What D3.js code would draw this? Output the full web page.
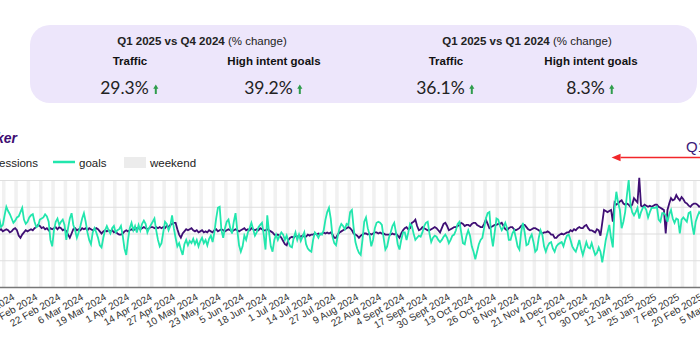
<!DOCTYPE html>
<html>
<head>
<meta charset="utf-8">
<script src="https://cdn.jsdelivr.net/npm/d3@7"></script>
<style>
  body { margin: 0; background: #fff; }
  svg { display: block; font-family: "Liberation Sans", Arial, sans-serif; }
</style>
</head>
<body>
<div id="chart"></div>
<script>
// Data
const startDay = '2024-01-16'

const goals = [
  61,67,64,56,58,67,75,71,68,64, 60,62,65,66,70,74,63,59,61,65,
  67,68,61,56,57,63,64,65,68,66, 61,44,38,53,61,64,58,61,63,58,
  44,55,64,69,58,53,46,51,57,64, 69,61,51,44,40,51,55,51,46,39,
  37,46,53,57,53,50,55,57,51,53, 54,57,48,36,30,44,55,60,53,57,
  51,58,53,59,62,59,51,55,58,61, 64,53,44,38,41,51,61,59,53,57,
  67,55,46,38,41,35,30,40,44,39, 43,41,45,40,44,38,43,46,41,44,
  39,45,48,42,51,64,74,75,53,46, 55,61,63,55,50,61,69,53,39,33,
  38,48,44,51,55,60,54,48,51,56, 58,60,49,35,67,51,38,33,44,49,
  44,48,51,49,44,48,42,38,37,46, 51,44,49,43,47,51,40,36,34,33,
  44,51,49,46,50,49,53,63,70,74, 64,47,41,39,48,55,59,57,54,59,
  58,70,72,55,42,36,32,30,44,61, 65,55,49,38,44,55,60,61,60,58,
  46,35,38,46,51,57,60,51,40,35, 44,51,51,44,51,59,57,50,44,46,
  48,47,51,57,60,61,50,42,46,48, 47,44,42,44,47,49,46,41,44,48,
  49,53,59,61,51,41,40,48,53,48, 38,33,26,33,40,44,46,55,64,69,
  70,49,38,51,64,63,57,53,56,60, 55,44,44,50,53,46,38,35,51,60,
  51,39,40,46,49,42,33,35,46,53, 49,38,33,38,41,42,36,33,38,40,
  41,42,38,44,48,49,44,38,35,33, 38,44,36,30,36,42,37,36,41,35,
  30,32,37,33,23,33,44,51,58,46, 37,74,89,79,72,55,61,70,86,100,
  77,70,67,70,74,64,70,74,75,72, 65,70,74,74,74,75,63,61,69,69,
  67,61,68,72,64,60,64,63,50,63, 65,63,61,69,70,58,49,61,66,70,
  68,64
]

const sessions = [
  53,52,53,54,52,53,54,53,51,52, 54,55,53,48,46,49,51,53,52,53,
  54,53,55,56,58,57,55,56,54,55, 53,55,54,55,56,54,56,55,53,54,
  52,49,46,50,54,55,53,54,53,55, 54,55,53,55,54,53,54,55,54,52,
  50,52,53,52,53,52,53,51,52,50, 49,49,50,52,53,52,53,54,53,54,
  55,55,54,55,56,55,54,55,56,56, 55,56,55,56,55,56,55,57,56,58,
  59,60,60,54,49,46,50,52,54,53, 54,55,53,52,53,51,52,53,51,52,
  51,53,52,51,53,54,52,53,54,53, 52,53,54,53,52,53,54,53,52,53,
  54,55,53,54,53,55,54,53,54,53, 55,54,53,53,54,53,52,51,49,48,
  49,48,46,43,40,39,44,46,47,46, 48,47,48,47,48,47,47,49,48,49,
  49,50,49,50,49,50,51,50,51,50, 51,49,46,46,49,51,52,53,54,55,
  56,55,53,50,49,48,46,48,49,50, 50,49,50,49,50,51,51,50,51,50,
  50,49,49,49,49,50,49,50,48,46, 50,53,55,56,54,55,60,61,63,57,
  53,54,56,55,54,53,53,54,55,56, 55,53,51,55,59,60,57,53,54,55,
  56,56,57,58,60,59,57,58,58,57, 59,60,60,58,57,56,56,59,63,59,
  55,56,57,58,58,59,59,60,57,54, 53,55,56,56,54,53,54,55,57,58,
  58,56,54,53,54,55,55,54,53,51, 50,51,51,52,51,49,49,46,46,48,
  49,50,49,50,51,51,53,52,54,53, 55,56,55,55,57,58,55,53,53,52,
  51,54,53,48,60,72,71,70,71,72, 61,79,77,78,80,81,78,77,78,77,
  75,77,83,81,79,102,76,75,77,76, 75,76,75,76,77,77,75,74,73,72,
  50,72,78,83,81,82,86,83,81,84, 82,79,78,76,75,77,78,78,77,75,
  76,77
]

const tickDays = [
  '2024-01-27','2024-02-09','2024-02-22','2024-03-06','2024-03-19','2024-04-01',
  '2024-04-14','2024-04-27','2024-05-10','2024-05-23','2024-06-05','2024-06-18',
  '2024-07-01','2024-07-14','2024-07-27','2024-08-09','2024-08-22','2024-09-04',
  '2024-09-17','2024-09-30','2024-10-13','2024-10-26','2024-11-08','2024-11-21',
  '2024-12-04','2024-12-17','2024-12-30','2025-01-12','2025-01-25','2025-02-07',
  '2025-02-20','2025-03-05'
]
const tickLabels = [
  '27 Jan 2024','9 Feb 2024','22 Feb 2024','6 Mar 2024','19 Mar 2024','1 Apr 2024',
  '14 Apr 2024','27 Apr 2024','10 May 2024','23 May 2024','5 Jun 2024','18 Jun 2024',
  '1 Jul 2024','14 Jul 2024','27 Jul 2024','9 Aug 2024','22 Aug 2024','4 Sept 2024',
  '17 Sept 2024','30 Sept 2024','13 Oct 2024','26 Oct 2024','8 Nov 2024','21 Nov 2024',
  '4 Dec 2024','17 Dec 2024','30 Dec 2024','12 Jan 2025','25 Jan 2025','7 Feb 2025',
  '20 Feb 2025','5 Mar 2025'
]

const periods = ['Q1 2025 vs Q4 2024', 'Q1 2025 vs Q1 2024']
const metrics = ['Traffic', 'High intent goals']
const changes = [29.3, 39.2, 36.1, 8.3]
const chartTitle = 'Traffic Tracker'
const annotation = { label: 'Q1 2025', from: '2025-01-01' }

// Dimensions
const dimensions = {
  width: 700,
  height: 352,
  plotTop: 180,
  plotBottom: 287
}

const colors = {
  sessions: '#3f0f74',
  goals: '#22e6ad',
  weekend: '#f1f1f1',
  grid: '#dedede',
  panel: '#ede6fb',
  arrowUp: '#2f9d4c',
  red: '#f2262a'
}

const parseDay = d3.timeParse('%Y-%m-%d')
const dates = goals.map((d, i) => d3.timeDay.offset(parseDay(startDay), i))

const svg = d3.select('#chart')
  .append('svg')
  .attr('width', dimensions.width)
  .attr('height', dimensions.height)

// Header panel
svg.append('rect')
  .attr('x', 30)
  .attr('y', 25)
  .attr('width', 667)
  .attr('height', 78)
  .attr('rx', 20)
  .attr('fill', colors.panel)

const periodCenters = [202, 527]
const metricCenters = [130, 274, 446, 591]

periods.forEach((p, i) => {
  const t = svg.append('text')
    .attr('x', periodCenters[i])
    .attr('y', 45)
    .attr('text-anchor', 'middle')
    .attr('font-size', 11.5)
    .attr('fill', '#222')
  t.append('tspan').attr('font-weight', 'bold').text(p)
  t.append('tspan').text(' (% change)')
})

metricCenters.forEach((cx, i) => {
  svg.append('text')
    .attr('x', cx)
    .attr('y', 65)
    .attr('text-anchor', 'middle')
    .attr('font-size', 11.5)
    .attr('font-weight', 'bold')
    .attr('fill', '#111')
    .text(metrics[i % 2])

  const num = svg.append('text')
    .attr('y', 94)
    .attr('font-family', 'Lato, sans-serif')
    .attr('font-size', 17.5)
    .attr('fill', '#222')
    .text(changes[i] + '%')
  const w = num.node().getComputedTextLength()
  const start = cx - (w + 11) / 2
  num.attr('x', start)

  svg.append('path')
    .attr('transform', `translate(${start + w + 7}, 94)`)
    .attr('d', 'M0,-9.5L2.6,-5.2L1,-5.2L1,0L-1,0L-1,-5.2L-2.6,-5.2Z')
    .attr('fill', colors.arrowUp)
})

// Title and legend
svg.append('text')
  .attr('x', 17)
  .attr('y', 143)
  .attr('text-anchor', 'end')
  .attr('font-size', 14)
  .attr('font-weight', 'bold')
  .attr('font-style', 'italic')
  .attr('fill', '#3d0c72')
  .text(chartTitle)

const legend = svg.append('g').attr('font-size', 11.5).attr('fill', '#222')
legend.append('line')
  .attr('x1', -45).attr('x2', -22).attr('y1', 162).attr('y2', 162)
  .attr('stroke', colors.sessions).attr('stroke-width', 2.5)
legend.append('text').attr('x', 38).attr('y', 167).attr('text-anchor', 'end').text('sessions')
legend.append('line')
  .attr('x1', 53).attr('x2', 75).attr('y1', 162).attr('y2', 162)
  .attr('stroke', colors.goals).attr('stroke-width', 2.5)
legend.append('text').attr('x', 79).attr('y', 167).text('goals')
legend.append('rect')
  .attr('x', 124).attr('y', 157).attr('width', 22).attr('height', 11)
  .attr('fill', '#ececec')
legend.append('text').attr('x', 150).attr('y', 167).text('weekend')

// Scales
const xScale = d3.scaleTime()
  .domain([parseDay('2024-02-22'), parseDay('2025-02-20')])
  .range([61, 61 + 364 * 1.763])

const yScale = d3.scaleLinear()
  .domain([0, 100])
  .range([dimensions.plotBottom, dimensions.plotTop])

const ctr = svg.append('g')

// Weekend bands
const dayW = xScale(dates[1]) - xScale(dates[0])
ctr.append('g')
  .selectAll('rect')
  .data(dates.filter(d => d.getDay() === 6))
  .join('rect')
  .attr('x', d => xScale(d) - dayW / 2)
  .attr('y', dimensions.plotTop)
  .attr('width', dayW * 2)
  .attr('height', dimensions.plotBottom - dimensions.plotTop)
  .attr('fill', colors.weekend)

// Gridlines
const yAxis = d3.axisLeft(yScale)
  .tickValues([25, 50, 75, 100])
  .tickSize(-760)
  .tickFormat('')
ctr.append('g')
  .attr('transform', 'translate(-30, 0)')
  .call(yAxis)
  .call(g => g.select('.domain').remove())
  .call(g => g.selectAll('line').attr('stroke', colors.grid).attr('stroke-width', 1.2))

// X axis
const xAxis = d3.axisBottom(xScale)
  .tickValues(tickDays.map(parseDay))
  .tickFormat((d, i) => tickLabels[i])
  .tickSize(0)
ctr.append('g')
  .attr('transform', `translate(0, ${dimensions.plotBottom})`)
  .call(xAxis)
  .call(g => g.select('.domain').remove())
  .call(g => g.selectAll('text')
    .attr('x', 0)
    .attr('y', 0)
    .attr('dy', '0.35em')
    .attr('text-anchor', 'end')
    .attr('font-size', 10)
    .attr('font-family', '"Liberation Sans", Arial, sans-serif')
    .attr('fill', '#333')
    .attr('transform', 'translate(-2, 9) rotate(-30)'))

ctr.append('line')
  .attr('x1', 0).attr('x2', dimensions.width)
  .attr('y1', dimensions.plotBottom + 0.5).attr('y2', dimensions.plotBottom + 0.5)
  .attr('stroke', '#777')
  .attr('stroke-width', 1.3)

// Lines
const lineGen = d3.line()
  .x((d, i) => xScale(dates[i]))
  .y(d => yScale(d))

ctr.append('path')
  .datum(sessions)
  .attr('d', lineGen)
  .attr('fill', 'none')
  .attr('stroke', colors.sessions)
  .attr('stroke-width', 1.8)

ctr.append('path')
  .datum(goals)
  .attr('d', lineGen)
  .attr('fill', 'none')
  .attr('stroke', colors.goals)
  .attr('stroke-width', 1.8)

// Annotation
const ax = xScale(parseDay(annotation.from))
svg.append('line')
  .attr('x1', ax + 6).attr('x2', 720)
  .attr('y1', 157.5).attr('y2', 157.5)
  .attr('stroke', colors.red)
  .attr('stroke-width', 1.5)
svg.append('path')
  .attr('d', `M${ax - 3},157.5L${ax + 6},153.8L${ax + 6},161.2Z`)
  .attr('fill', colors.red)
svg.append('text')
  .attr('x', 686)
  .attr('y', 152)
  .attr('font-size', 15)
  .attr('fill', '#3d1a78')
  .text(annotation.label)
</script>
</body>
</html>
